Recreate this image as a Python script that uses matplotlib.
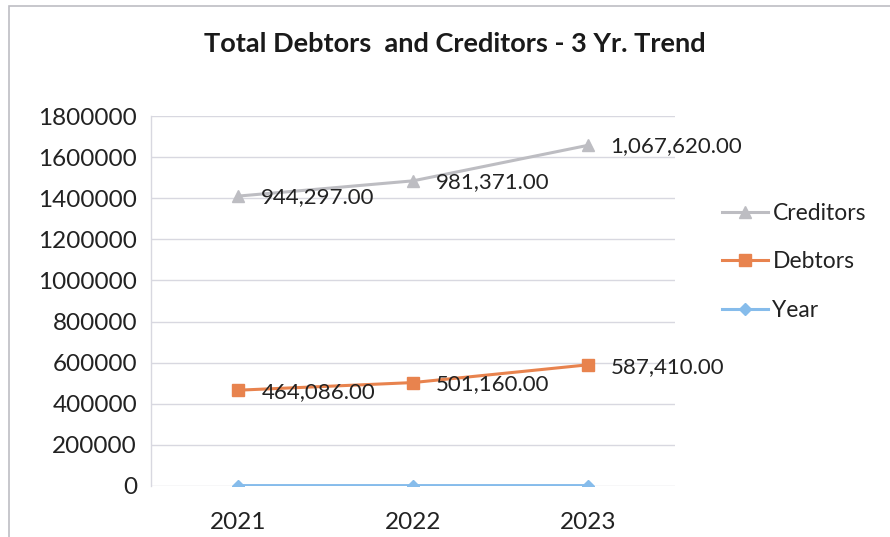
import matplotlib
matplotlib.use("Agg")
import matplotlib.pyplot as plt
import numpy as np
from matplotlib.patches import Rectangle

years = ["2021", "2022", "2023"]
year_vals = [2021, 2022, 2023]
debtors = [464086.00, 501160.00, 587410.00]
creditors = [944297.00, 981371.00, 1067620.00]
title = "Total Debtors  and Creditors - 3 Yr. Trend"

plt.rcParams['font.family'] = ['Lato', 'DejaVu Sans']

W, H = 890, 537
fig = plt.figure(figsize=(W / 100, H / 100), dpi=100)
fig.patch.set_facecolor('white')

# outer chart frame
fig.patches.append(Rectangle((9 / W, -0.1), 1.2, (H - 6) / H + 0.1, transform=fig.transFigure,
                             fill=False, edgecolor='#BDBDC4', linewidth=1.2))

ax = fig.add_axes([151 / W, 1 - 486 / H, (675 - 151) / W, (486 - 116) / H])
x = np.arange(len(years))

# stacked line (Excel stacked line chart)
y_year = np.array(year_vals, dtype=float)
y_debt = y_year + np.array(debtors)
y_cred = y_debt + np.array(creditors)

c_cred = '#BDBDC2'
c_debt = '#E8834E'
c_year = '#86BCEB'

ax.plot(x, y_cred, color=c_cred, lw=2.2, marker='^', ms=8, label='Creditors', zorder=3)
ax.plot(x, y_debt, color=c_debt, lw=2.2, marker='s', ms=8.5, label='Debtors', zorder=3)
ax.plot(x, y_year, color=c_year, lw=2.2, marker='D', ms=6, label='Year', zorder=3)

fs_lab = 16
for xi, yv, v in zip(x, y_cred, creditors):
    ax.annotate(f"{v:,.2f}", (xi, yv), xytext=(23, -1), textcoords='offset pixels',
                ha='left', va='center', fontsize=fs_lab, color='#222222', zorder=4, annotation_clip=False)
for xi, yv, v in zip(x, y_debt, debtors):
    ax.annotate(f"{v:,.2f}", (xi, yv), xytext=(23, -2), textcoords='offset pixels',
                ha='left', va='center', fontsize=fs_lab, color='#222222', zorder=4, annotation_clip=False)

fs = 17.5
ax.set_xlim(-0.5, 2.5)
ax.set_ylim(0, 1800000)
ax.set_yticks(np.arange(0, 1800001, 200000))
ax.set_yticklabels([f"{int(v)}" for v in np.arange(0, 1800001, 200000)], fontsize=fs, color='#222222')
ax.set_xticks(x)
ax.set_xticklabels(years, fontsize=fs, color='#222222')
ax.tick_params(axis='both', length=0)
ax.tick_params(axis='y', pad=10)
ax.tick_params(axis='x', pad=19)
ax.grid(axis='y', color='#D8D8E0', lw=1.0)
ax.set_axisbelow(True)
for s in ['top', 'right', 'bottom']:
    ax.spines[s].set_visible(False)
ax.spines['left'].set_color('#D8D8E0')
ax.spines['left'].set_linewidth(1.0)

fig.text(455 / W, 1 - 44 / H, title, ha='center', va='center', fontsize=19.5,
         fontweight='bold', color='#1a1a1a')

leg = fig.legend(loc='center left', bbox_to_anchor=(722 / W, 1 - 262 / H), frameon=False,
                 fontsize=16.5, handlelength=2.0, handletextpad=0.2, labelspacing=1.2,
                 borderpad=0, borderaxespad=0, labelcolor='#222222')

fig.savefig('out.png', dpi=100, facecolor='white')
